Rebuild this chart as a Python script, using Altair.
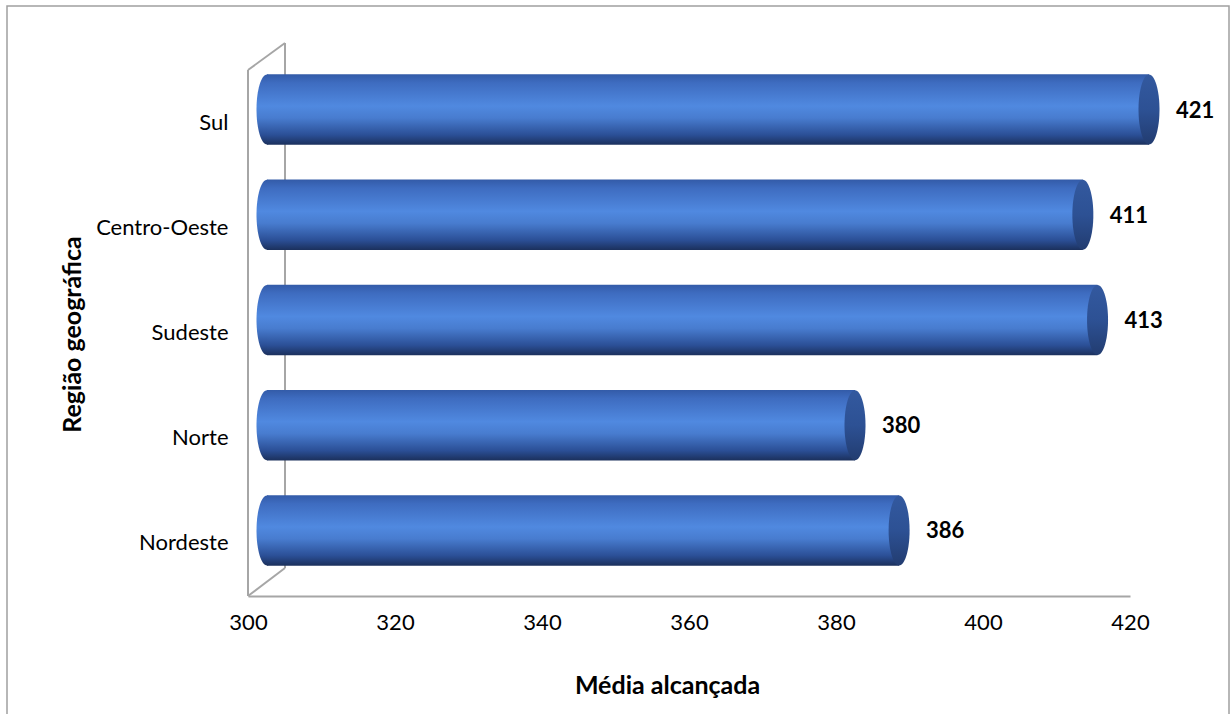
import altair as alt
import pandas as pd

# ---- data ----
regioes = ["Sul", "Centro-Oeste", "Sudeste", "Norte", "Nordeste"]
medias = [421, 411, 413, 380, 386]
x_ticks = [300, 320, 340, 360, 380, 400, 420]

df = pd.DataFrame({"regiao": regioes, "media": medias})

FONT = "Lato"
GRID = "#A6A6A6"
OFF = 19  # 3D depth shift of the cylinders

x_scale = alt.Scale(domain=[300, 420], clamp=True, nice=False, zero=False)
y_scale = alt.Scale(domain=regioes, paddingInner=0.33, paddingOuter=0.165)

x_enc = alt.X(
    "media:Q",
    scale=x_scale,
    axis=alt.Axis(
        values=x_ticks,
        title="Média alcançada",
        grid=False,
        ticks=False,
        offset=13,
        domainColor=GRID,
        domainWidth=2,
        labelFont=FONT,
        labelFontSize=22,
        labelColor="#000000",
        labelBaseline="middle",
        labelPadding=26,
        labelFlush=False,
        labelOverlap=False,
        titleFont=FONT,
        titleFontSize=25,
        titleFontWeight="bold",
        titleColor="#000000",
        titleX=419,
        titleY=89,
        titleBaseline="middle",
        titleAlign="center",
    ),
)
y_enc = alt.Y(
    "regiao:N",
    scale=y_scale,
    sort=regioes,
    axis=alt.Axis(
        title="Região geográfica",
        domain=False,
        ticks=False,
        grid=False,
        labelFont=FONT,
        labelFontSize=22,
        labelColor="#000000",
        labelPadding=20,
        labelOffset=13,
        titleFont=FONT,
        titleFontSize=25,
        titleFontWeight="bold",
        titleColor="#000000",
        titleX=-176,
        titleY=277,
        titleAngle=-90,
        titleBaseline="middle",
        titleAlign="center",
    ),
)

body_grad = alt.Gradient(
    gradient="linear",
    x1=0, x2=0, y1=0, y2=1,
    stops=[
        alt.GradientStop(offset=0.0, color="#335BA8"),
        alt.GradientStop(offset=0.12, color="#3E6CC0"),
        alt.GradientStop(offset=0.45, color="#5089E0"),
        alt.GradientStop(offset=0.62, color="#487CCF"),
        alt.GradientStop(offset=0.86, color="#2B4F96"),
        alt.GradientStop(offset=1.0, color="#1B305C"),
    ],
)
cap_grad = alt.Gradient(
    gradient="linear",
    x1=0, x2=0, y1=0, y2=1,
    stops=[
        alt.GradientStop(offset=0.0, color="#33599F"),
        alt.GradientStop(offset=0.5, color="#2D5194"),
        alt.GradientStop(offset=1.0, color="#223C70"),
    ],
)

ELLIPSE = "M0,-1 A0.3,1 0 1,1 0,1 A0.3,1 0 1,1 0,-1 Z"

base = alt.Chart(df)

left_end = base.mark_point(
    shape=ELLIPSE, filled=True, size=4900, opacity=1, fill=body_grad,
    strokeWidth=0, xOffset=OFF,
).encode(x=alt.X(datum=300, type="quantitative", scale=x_scale), y=y_enc)

bars = base.mark_bar(
    fill=body_grad, xOffset=OFF, x2Offset=OFF,
).encode(x=x_enc, x2=alt.X2(datum=300), y=y_enc)

right_cap = base.mark_point(
    shape=ELLIPSE, filled=True, size=4900, opacity=1, fill=cap_grad,
    strokeWidth=0, xOffset=OFF,
).encode(x=alt.X("media:Q", scale=x_scale), y=alt.Y("regiao:N", scale=y_scale, sort=regioes))

labels = base.mark_text(
    align="left", baseline="middle", dx=46, dy=1,
    font=FONT, fontSize=22, fontWeight="bold", color="#000000",
).encode(
    x=alt.X("media:Q", scale=x_scale),
    y=alt.Y("regiao:N", scale=y_scale, sort=regioes),
    text=alt.Text("media:Q"),
)

one = alt.Chart(pd.DataFrame({"k": [0]}))

def seg(x, y, x2, y2):
    return one.mark_rule(color=GRID, strokeWidth=2).encode(
        x=alt.value(x), y=alt.value(y), x2=alt.value(x2), y2=alt.value(y2)
    )

frame = [
    seg(0, 13, 0, 539),     # front left wall edge
    seg(37, -14, 37, 511),  # back wall edge
    seg(0, 13, 37, -14),    # top diagonal
    seg(0, 539, 37, 511),   # bottom diagonal
]

border = one.mark_rect(
    fillOpacity=0, stroke="#A0A0A0", strokeWidth=1.5
).encode(
    x=alt.value(-241), x2=alt.value(981), y=alt.value(-51), y2=alt.value(700)
)

chart = (
    alt.layer(border, *frame, left_end, bars, right_cap, labels)
    .properties(
        width=882,
        height=526,
        padding={"left": 248, "top": 57, "right": 100, "bottom": 131},
        autosize=alt.AutoSizeParams(type="none"),
        background="white",
    )
    .configure_view(stroke=None)
)

chart.save("out.html", embed_options={"renderer": "svg", "actions": False})
